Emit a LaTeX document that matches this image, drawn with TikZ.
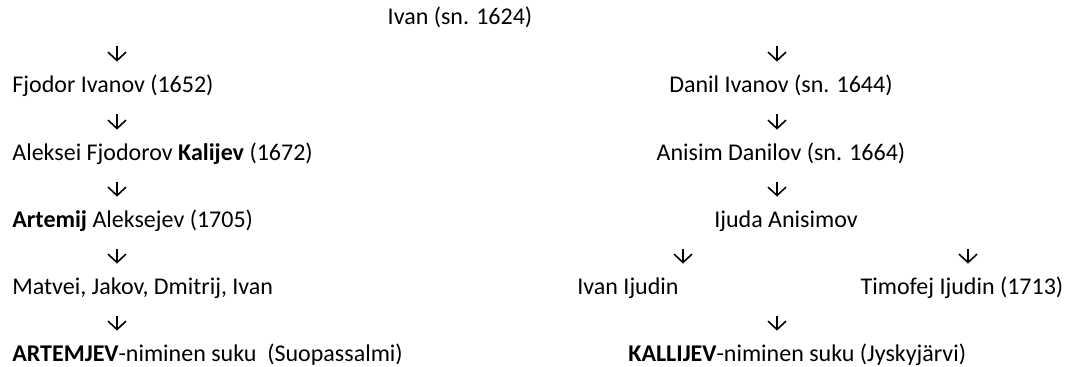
\documentclass[tikz,border=0pt]{standalone}
\usepackage{fontspec}
\setmainfont{Carlito}
\usetikzlibrary{arrows.meta}

\begin{document}
\begin{tikzpicture}[x=0.5pt, y=-0.5pt,
        font=\fontsize{12pt}{14pt}\selectfont,
        >={Straight Barb[length=4.2pt, width=9pt]},
        person/.style={inner sep=0pt, text height=8pt, text depth=2.5pt},
        darr/.style={->, line width=0.8pt, shorten <=8pt, shorten >=7.5pt}]

        \useasboundingbox (0,0) rectangle (1072,367);

        % Arrow columns
        \coordinate (colL) at (117,0);
        \coordinate (colR) at (777,0);
        \coordinate (colA) at (683,0);
        \coordinate (colB) at (968,0);

        % Root
        \node[person, anchor=base] (ivan) at (460,25) {Ivan (sn. 1624)};

        % Left branch
        \node[person, anchor=base west] (fjodor) at (12,93) {Fjodor Ivanov (1652)};
        \node[person, anchor=base west] (aleksei) at (12,161) {Aleksei Fjodorov \textbf{Kalijev} (1672)};
        \node[person, anchor=base west] (artemij) at (12,228) {\textbf{Artemij} Aleksejev (1705)};
        \node[person, anchor=base west] (sons) at (12,295) {Matvei, Jakov, Dmitrij, Ivan};
        \node[person, anchor=base west] (artemjev) at (12,362) {\textbf{ARTEMJEV}-niminen suku\ \ (Suopassalmi)};

        % Right branch
        \node[person, anchor=base] (danil) at (781,93) {Danil Ivanov (sn. 1644)};
        \node[person, anchor=base] (anisim) at (781,161) {Anisim Danilov (sn. 1664)};
        \node[person, anchor=base] (ijuda) at (786,228) {Ijuda Anisimov};
        \node[person, anchor=base] (ivanij) at (628,295) {Ivan Ijudin};
        \node[person, anchor=base] (timofej) at (962,295) {Timofej Ijudin (1713)};
        \node[person, anchor=base west] (kallijev) at (628,362) {\textbf{KALLIJEV}-niminen suku (Jyskyjärvi)};

        % Left connections
        \draw[darr] (ivan.south -| colL) -- (fjodor.north -| colL);
        \draw[darr] (fjodor.south -| colL) -- (aleksei.north -| colL);
        \draw[darr] (aleksei.south -| colL) -- (artemij.north -| colL);
        \draw[darr] (artemij.south -| colL) -- (sons.north -| colL);
        \draw[darr] (sons.south -| colL) -- (artemjev.north -| colL);

        % Right connections
        \draw[darr] (ivan.south -| colR) -- (danil.north -| colR);
        \draw[darr] (danil.south -| colR) -- (anisim.north -| colR);
        \draw[darr] (anisim.south -| colR) -- (ijuda.north -| colR);
        \draw[darr] (ijuda.south -| colA) -- (ivanij.north -| colA);
        \draw[darr] (ijuda.south -| colB) -- (timofej.north -| colB);
        \draw[darr] (ivanij.south -| colR) -- (kallijev.north -| colR);

\end{tikzpicture}
\end{document}
